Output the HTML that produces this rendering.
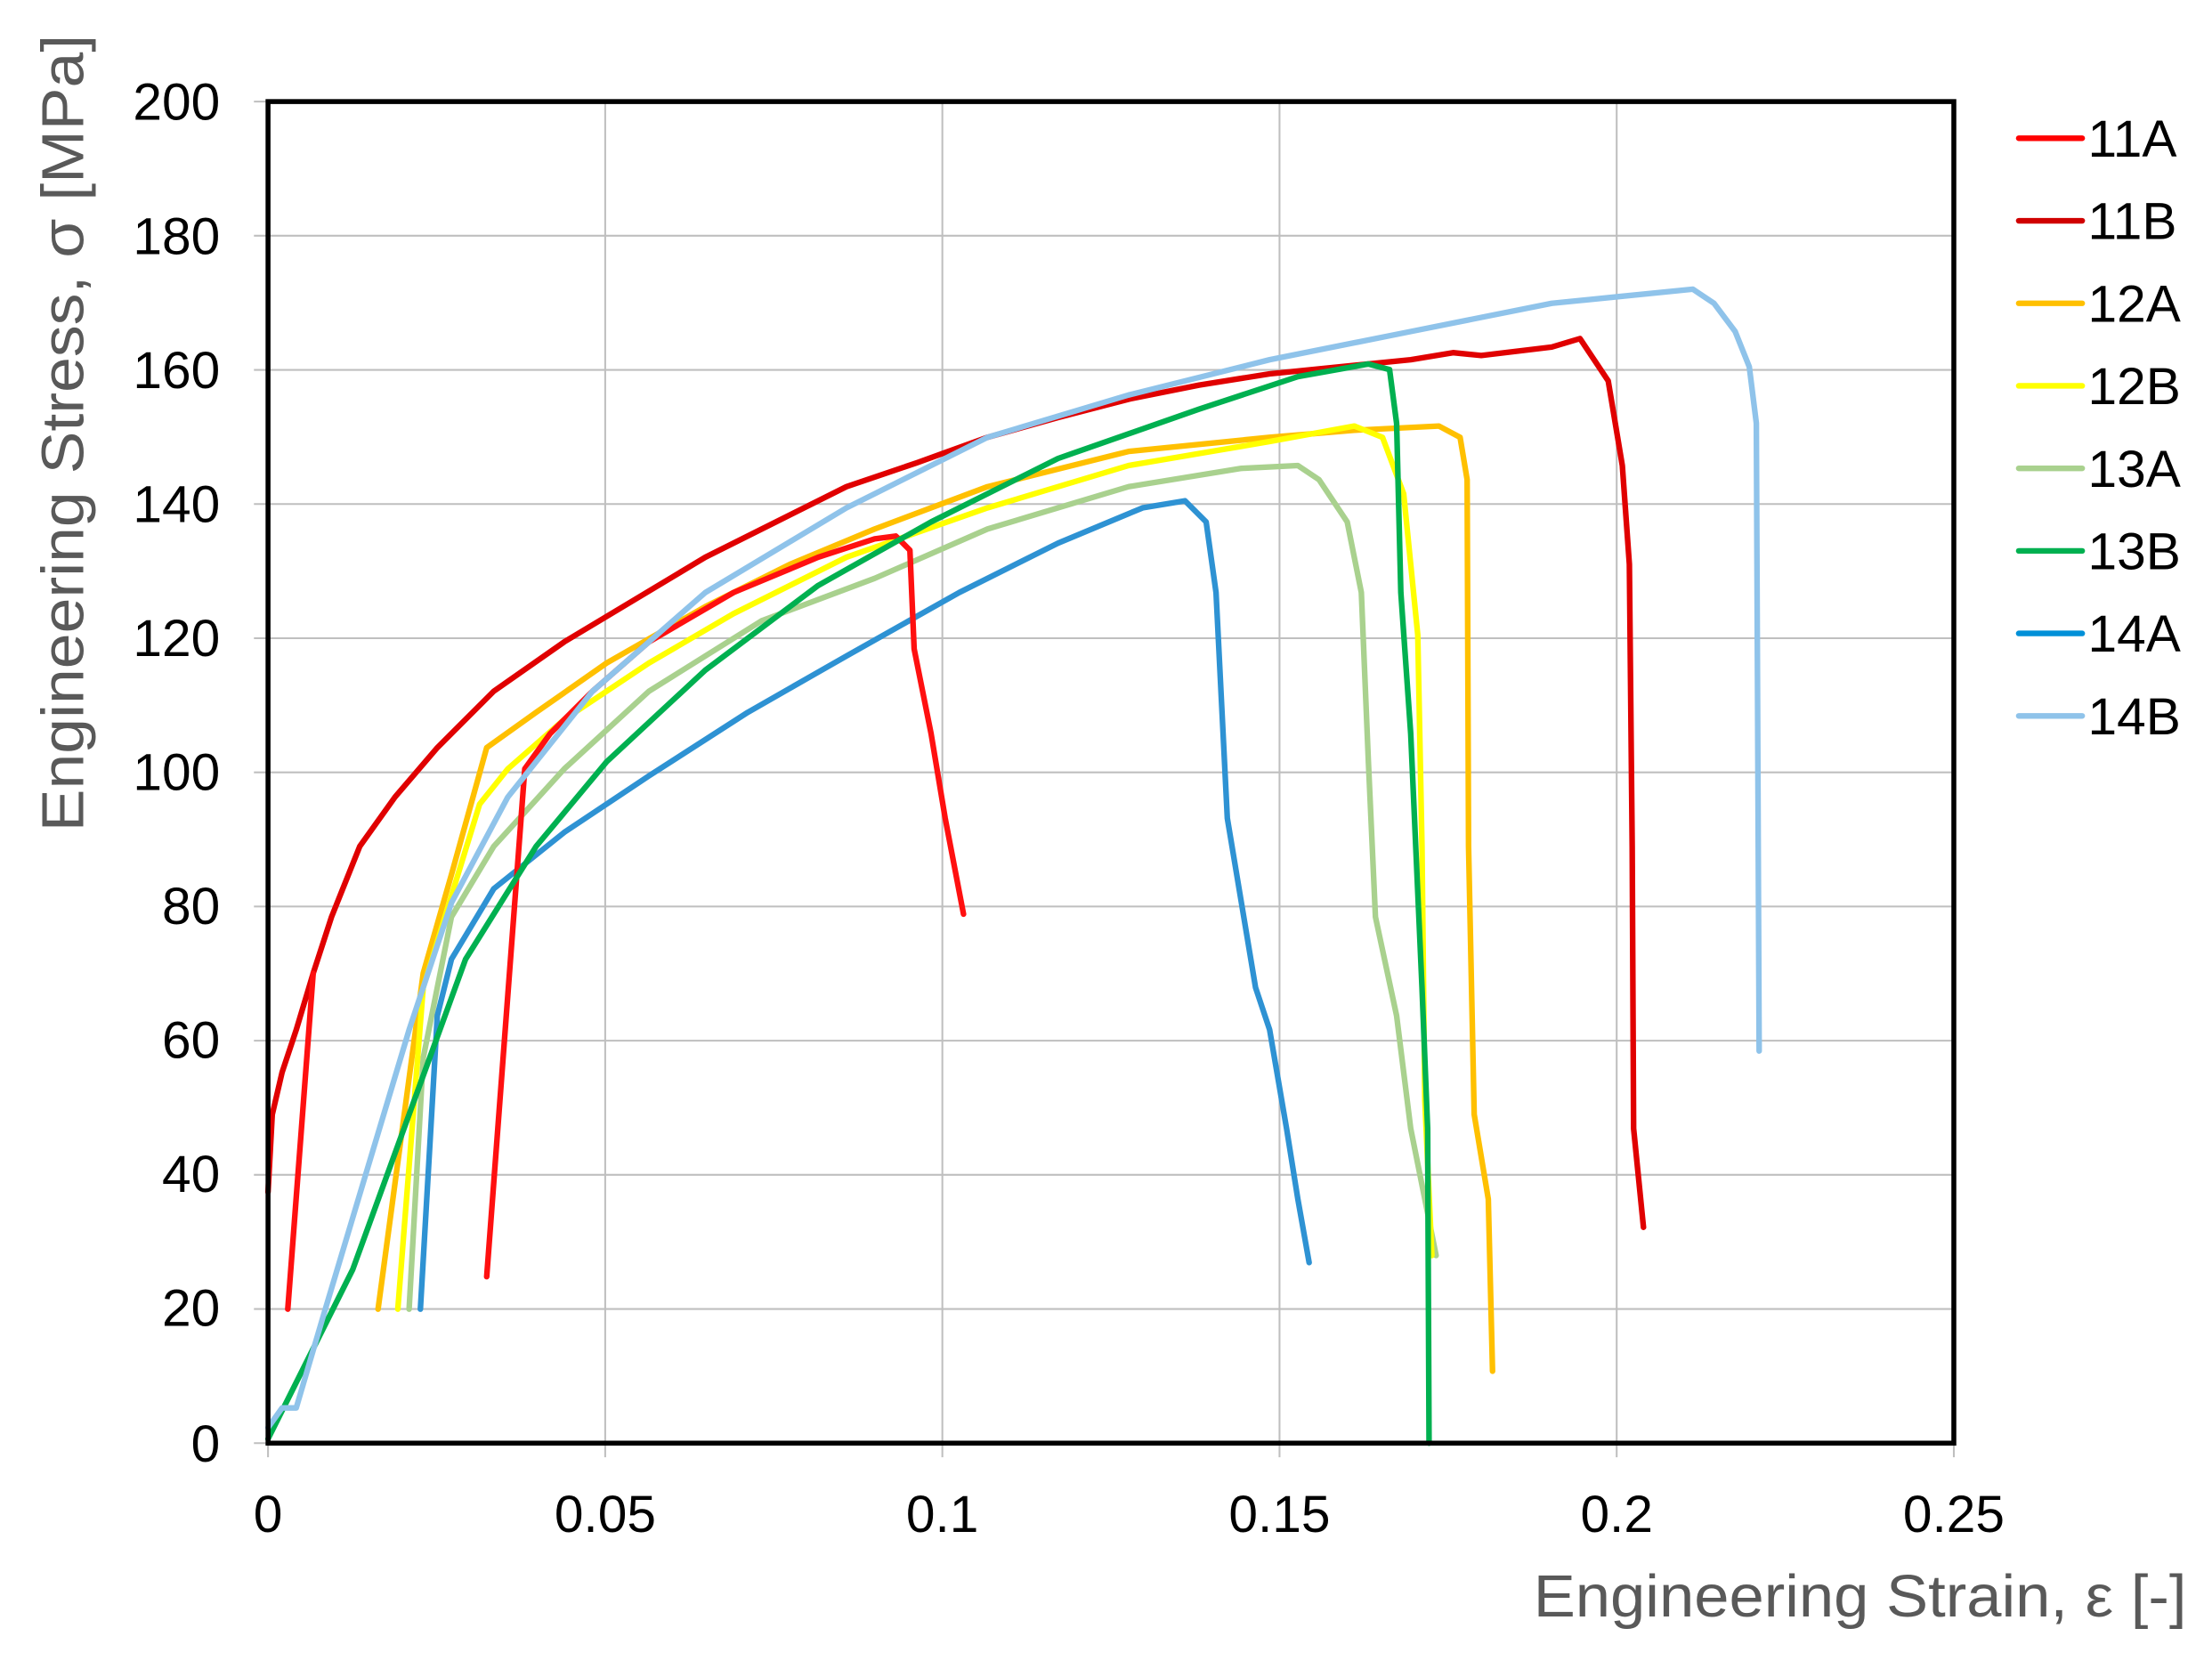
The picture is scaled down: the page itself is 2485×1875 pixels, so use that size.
<!DOCTYPE html>
<html><head><meta charset="utf-8"><style>html,body{margin:0;padding:0;background:#fff}svg{display:block}</style></head>
<body>
<svg width="2485" height="1875" viewBox="0 0 1568 1183.1" xmlns="http://www.w3.org/2000/svg" font-family="Liberation Sans, Arial, sans-serif">
<rect width="1568" height="1184" fill="#fff"/>
<g stroke="#bfbfbf" stroke-width="1.3">
<line x1="429" y1="72" x2="429" y2="1033"/><line x1="668" y1="72" x2="668" y2="1033"/><line x1="907" y1="72" x2="907" y2="1033"/><line x1="1146" y1="72" x2="1146" y2="1033"/><line x1="1385" y1="1023" x2="1385" y2="1033"/><line x1="190" y1="1023" x2="190" y2="1033"/>
<line x1="180" y1="72" x2="1385" y2="72"/><line x1="180" y1="167.1" x2="1385" y2="167.1"/><line x1="180" y1="262.2" x2="1385" y2="262.2"/><line x1="180" y1="357.3" x2="1385" y2="357.3"/><line x1="180" y1="452.4" x2="1385" y2="452.4"/><line x1="180" y1="547.5" x2="1385" y2="547.5"/><line x1="180" y1="642.6" x2="1385" y2="642.6"/><line x1="180" y1="737.7" x2="1385" y2="737.7"/><line x1="180" y1="832.8" x2="1385" y2="832.8"/><line x1="180" y1="927.9" x2="1385" y2="927.9"/><line x1="180" y1="1023" x2="190" y2="1023"/>
</g>
<g font-size="37" fill="#000" text-anchor="end">
<text x="156" y="85">200</text><text x="156" y="180">180</text><text x="156" y="275">160</text><text x="156" y="370">140</text><text x="156" y="465">120</text><text x="156" y="560">100</text><text x="156" y="655">80</text><text x="156" y="750">60</text><text x="156" y="845">40</text><text x="156" y="940">20</text><text x="156" y="1036">0</text>
</g>
<g font-size="37" fill="#000" text-anchor="middle">
<text x="190" y="1086">0</text><text x="429" y="1086">0.05</text><text x="668" y="1086">0.1</text><text x="907" y="1086">0.15</text><text x="1146" y="1086">0.2</text><text x="1385" y="1086">0.25</text>
</g>
<text x="1087" y="1146" font-size="42" fill="#595959" textLength="463" lengthAdjust="spacingAndGlyphs">Engineering Strain, ε [-]</text>
<text transform="translate(59,307) rotate(-90)" text-anchor="middle" font-size="42" fill="#595959" textLength="565" lengthAdjust="spacingAndGlyphs">Engineering Stress, σ [MPa]</text>
<g fill="none" stroke-width="4" stroke-linejoin="round" stroke-linecap="round">
<polyline stroke="#a9d18e" points="290,928 300,750 320,650 350,600 400,545 460,490 540,440 620,410 700,375 800,345 880,332 920,330 935,340 955,370 965,420 970,540 975,650 990,720 1000,800 1010,850 1018,890"/>
<polyline stroke="#ffc000" points="268,928 300,690 320,620 345,530 380,505 430,470 500,430 560,400 620,375 700,345 800,320 900,310 960,305 1020,302 1035,310 1040,340 1041,600 1045,790 1055,850 1058,972"/>
<polyline stroke="#ffff00" points="282,928 300,700 340,570 360,545 400,510 460,470 520,435 600,395 700,360 800,330 900,313 960,302 980,310 995,350 1005,450 1008,600 1010,780 1015,890"/>
<polyline stroke="#2e92d3" points="298,928 310,720 320,680 350,630 400,590 460,550 530,505 600,465 680,420 750,385 810,360 840,355 855,370 862,420 866,500 870,580 880,640 890,700 900,730 912,800 920,850 928,895"/>
<polyline stroke="#e00000" points="190,845 193,790 200,760 210,730 222,690 235,650 255,600 280,565 310,530 350,490 400,455 450,425 500,395 550,370 600,345 650,328 700,310 750,296 800,283 850,273 900,265 950,260 1000,255 1030,250 1050,252 1100,246 1120,240 1130,255 1140,270 1150,330 1155,400 1157,600 1158,800 1165,870"/>
<polyline stroke="#ff1010" points="204,928 222,690"/>
<polyline stroke="#ff1010" points="345,905 372,545 390,520 420,490 460,455 520,420 580,395 620,382 635,380 645,390 648,460 660,520 670,580 683,648"/>
<polyline stroke="#00b050" points="190,1020 205,990 220,960 250,900 290,790 330,680 380,600 430,540 500,475 580,415 660,370 750,325 850,290 920,267 970,258 985,262 990,300 993,420 1000,520 1008,700 1012,800 1013,1023"/>
<polyline stroke="#8fc3ea" points="190,1012 200,998 210,998 230,930 260,830 290,730 320,640 360,565 420,490 500,420 600,360 700,310 800,280 900,255 1000,235 1100,215 1150,210 1200,205 1215,215 1230,235 1240,260 1245,300 1247,745"/>
</g>
<rect x="190" y="72" width="1195" height="951" fill="none" stroke="#000" stroke-width="3.5"/>
<g stroke-width="4" stroke-linecap="round">
<line x1="1431" y1="98" x2="1476" y2="98" stroke="#ff0000"/>
<line x1="1431" y1="156.5" x2="1476" y2="156.5" stroke="#d00000"/>
<line x1="1431" y1="215" x2="1476" y2="215" stroke="#ffc000"/>
<line x1="1431" y1="273.5" x2="1476" y2="273.5" stroke="#ffff00"/>
<line x1="1431" y1="332" x2="1476" y2="332" stroke="#a9d18e"/>
<line x1="1431" y1="390.5" x2="1476" y2="390.5" stroke="#00b050"/>
<line x1="1431" y1="449" x2="1476" y2="449" stroke="#0090d8"/>
<line x1="1431" y1="507.5" x2="1476" y2="507.5" stroke="#8fc3ea"/>
</g>
<g font-size="37" fill="#000">
<text x="1480" y="111">11A</text><text x="1480" y="169.5">11B</text><text x="1480" y="228">12A</text><text x="1480" y="286.5">12B</text><text x="1480" y="345">13A</text><text x="1480" y="403.5">13B</text><text x="1480" y="462">14A</text><text x="1480" y="520.5">14B</text>
</g>
</svg>
</body></html>
